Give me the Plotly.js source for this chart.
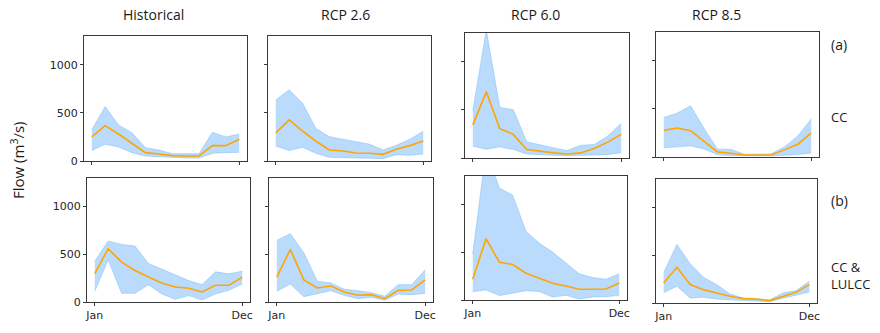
<!DOCTYPE html>
<html>
<head>
<meta charset="utf-8">
<script src="https://cdn.plot.ly/plotly-3.0.1.min.js"></script>
<style>
  html, body { margin: 0; padding: 0; background: #ffffff; }
  #chart { width: 880px; height: 333px; }
</style>
</head>
<body>
<div id="chart"></div>
<script>
// months 1..12, only Jan and Dec labelled
const months = [1, 2, 3, 4, 5, 6, 7, 8, 9, 10, 11, 12];
const monthTickVals = [1, 12];
const monthTickText = ["Jan", "Dec"];
const flowTickVals = [0, 500, 1000];

const scenarios = ["Historical", "RCP 2.6", "RCP 6.0", "RCP 8.5"];
const rowLabels = ["(a)", "(b)"];
const rowNames = ["CC", "CC &<br>LULCC"];

// (a) CC : median / lower / upper
const histCcMed = [250, 368, 281, 184, 87, 73, 56, 52, 52, 160, 160, 226];
const histCcLo = [108, 174, 146, 87, 52, 45, 35, 31, 31, 80, 87, 90];
const histCcHi = [323, 566, 375, 295, 139, 115, 76, 76, 76, 299, 250, 281];

const rcp26CcMed = [292, 427, 312, 205, 115, 104, 83, 80, 69, 122, 160, 208];
const rcp26CcLo = [156, 108, 142, 80, 38, 31, 31, 28, 24, 66, 59, 73];
const rcp26CcHi = [635, 740, 600, 337, 253, 226, 194, 174, 115, 163, 226, 309];

const rcp60CcMed = [344, 688, 305, 246, 88, 70, 53, 42, 53, 98, 165, 246];
const rcp60CcLo = [123, 91, 116, 88, 42, 32, 28, 25, 28, 28, 35, 56];
const rcp60CcHi = [491, 1330, 526, 502, 168, 133, 105, 77, 133, 140, 228, 358];

const rcp85CcMed = [277, 302, 274, 165, 53, 39, 21, 21, 21, 74, 133, 249];
const rcp85CcLo = [95, 105, 116, 84, 25, 14, 11, 11, 11, 18, 25, 42];
const rcp85CcHi = [411, 456, 533, 298, 81, 81, 28, 28, 32, 105, 218, 396];

// (b) CC & LULCC
const histLuMed = [298, 558, 418, 330, 263, 200, 158, 144, 105, 175, 175, 260];
const histLuLo = [112, 442, 91, 91, 182, 84, 28, 67, 21, 84, 123, 189];
const histLuHi = [428, 639, 604, 586, 404, 344, 277, 225, 182, 316, 295, 323];

const rcp26LuMed = [260, 551, 232, 147, 168, 105, 70, 77, 35, 123, 126, 232];
const rcp26LuLo = [112, 189, 56, 91, 119, 70, 35, 49, 18, 84, 77, 91];
const rcp26LuHi = [646, 716, 516, 218, 200, 133, 119, 98, 60, 182, 182, 337];

const rcp60LuMed = [218, 642, 396, 372, 281, 228, 175, 147, 112, 112, 116, 179];
const rcp60LuLo = [88, 105, 46, 70, 98, 88, 32, 49, 11, 32, 35, 49];
const rcp60LuHi = [481, 1570, 1175, 1098, 719, 596, 502, 386, 274, 235, 218, 274];

const rcp85LuMed = [210, 375, 193, 140, 105, 70, 46, 42, 25, 70, 112, 193];
const rcp85LuLo = [109, 175, 53, 60, 42, 32, 25, 21, 14, 49, 81, 116];
const rcp85LuHi = [316, 614, 411, 270, 193, 95, 53, 46, 32, 105, 130, 228];

const panels = [
  [histCcMed, histCcLo, histCcHi], [rcp26CcMed, rcp26CcLo, rcp26CcHi],
  [rcp60CcMed, rcp60CcLo, rcp60CcHi], [rcp85CcMed, rcp85CcLo, rcp85CcHi],
  [histLuMed, histLuLo, histLuHi], [rcp26LuMed, rcp26LuLo, rcp26LuHi],
  [rcp60LuMed, rcp60LuLo, rcp60LuHi], [rcp85LuMed, rcp85LuLo, rcp85LuHi]
];

// panel boxes in pixels [left, right, top, bottom] (the source figure is stitched, boxes are not quite aligned)
const W = 880, H = 333;
const boxes = [
  [84, 247, 36, 161], [268, 431, 36, 161], [465, 629, 33, 158], [656, 819, 32, 157],
  [87, 250, 178, 302], [269, 433, 178, 302], [465, 627, 176, 300], [656, 817, 179, 303]
];
const titleX = [153, 345, 535, 716];

const frame = "#3a3a3a";
const tickFont = { family: "DejaVu Sans", size: 11, color: "#262626" };
const textFont = { family: "Open Sans", size: 14, color: "#1a1a1a" };

const traces = [];
const layout = {
  width: W,
  height: H,
  margin: { l: 0, r: 0, t: 0, b: 0 },
  paper_bgcolor: "#ffffff",
  plot_bgcolor: "#ffffff",
  showlegend: false,
  annotations: []
};

panels.forEach((p, i) => {
  const n = i + 1;
  const xa = n === 1 ? "x" : "x" + n;
  const ya = n === 1 ? "y" : "y" + n;
  const [med, lo, hi] = p;
  const row = Math.floor(i / 4), col = i % 4;
  const b = boxes[i];

  traces.push({
    type: "scatter", mode: "lines", x: months, y: lo, xaxis: xa, yaxis: ya,
    line: { color: "rgba(120,185,245,0.6)", width: 0.8 }, hoverinfo: "skip"
  });
  traces.push({
    type: "scatter", mode: "lines", x: months, y: hi, xaxis: xa, yaxis: ya,
    fill: "tonexty", fillcolor: "rgba(140,195,250,0.6)",
    line: { color: "rgba(120,185,245,0.6)", width: 0.8 }, hoverinfo: "skip"
  });
  traces.push({
    type: "scatter", mode: "lines", x: months, y: med, xaxis: xa, yaxis: ya,
    line: { color: "#ffa500", width: 1.6 }
  });

  layout["xaxis" + (n === 1 ? "" : n)] = {
    domain: [b[0] / W, b[1] / W],
    anchor: ya,
    range: [0.42, 12.58],
    tickvals: monthTickVals,
    ticktext: monthTickText,
    showticklabels: row === 1,
    ticks: "outside", ticklen: 3, tickcolor: frame,
    tickfont: tickFont,
    showline: true, mirror: true, linecolor: frame, linewidth: 1,
    showgrid: false, zeroline: false, fixedrange: true
  };
  layout["yaxis" + (n === 1 ? "" : n)] = {
    domain: [1 - b[3] / H, 1 - b[2] / H],
    anchor: xa,
    range: [0, 1300],
    tickvals: flowTickVals,
    showticklabels: col === 0,
    ticks: "outside", ticklen: 3, tickcolor: frame,
    tickfont: tickFont,
    showline: true, mirror: true, linecolor: frame, linewidth: 1,
    showgrid: false, zeroline: false, fixedrange: true
  };
});

scenarios.forEach((s, k) => {
  layout.annotations.push({
    text: s, xref: "paper", yref: "paper", x: titleX[k] / W, y: 1 - 14 / H,
    showarrow: false, xanchor: "center", yanchor: "middle", font: textFont
  });
});

// row letters and names on the right
[45, 200].forEach((yy, r) => {
  layout.annotations.push({
    text: rowLabels[r], xref: "paper", yref: "paper", x: 829 / W, y: 1 - yy / H,
    showarrow: false, xanchor: "left", yanchor: "middle", font: textFont
  });
});
[117, 275].forEach((yy, r) => {
  layout.annotations.push({
    text: rowNames[r], xref: "paper", yref: "paper", x: 829 / W, y: 1 - yy / H,
    showarrow: false, xanchor: "left", yanchor: "middle", align: "left",
    font: { family: "Open Sans", size: 13, color: "#1a1a1a" }
  });
});

layout.annotations.push({
  text: "Flow (m<sup>3</sup>/s)", xref: "paper", yref: "paper", x: 17 / W, y: 1 - 161 / H,
  showarrow: false, textangle: -90, xanchor: "center", yanchor: "middle",
  font: { family: "Open Sans", size: 15, color: "#1a1a1a" }
});

Plotly.newPlot("chart", traces, layout, { displayModeBar: false, staticPlot: true });
</script>
</body>
</html>
